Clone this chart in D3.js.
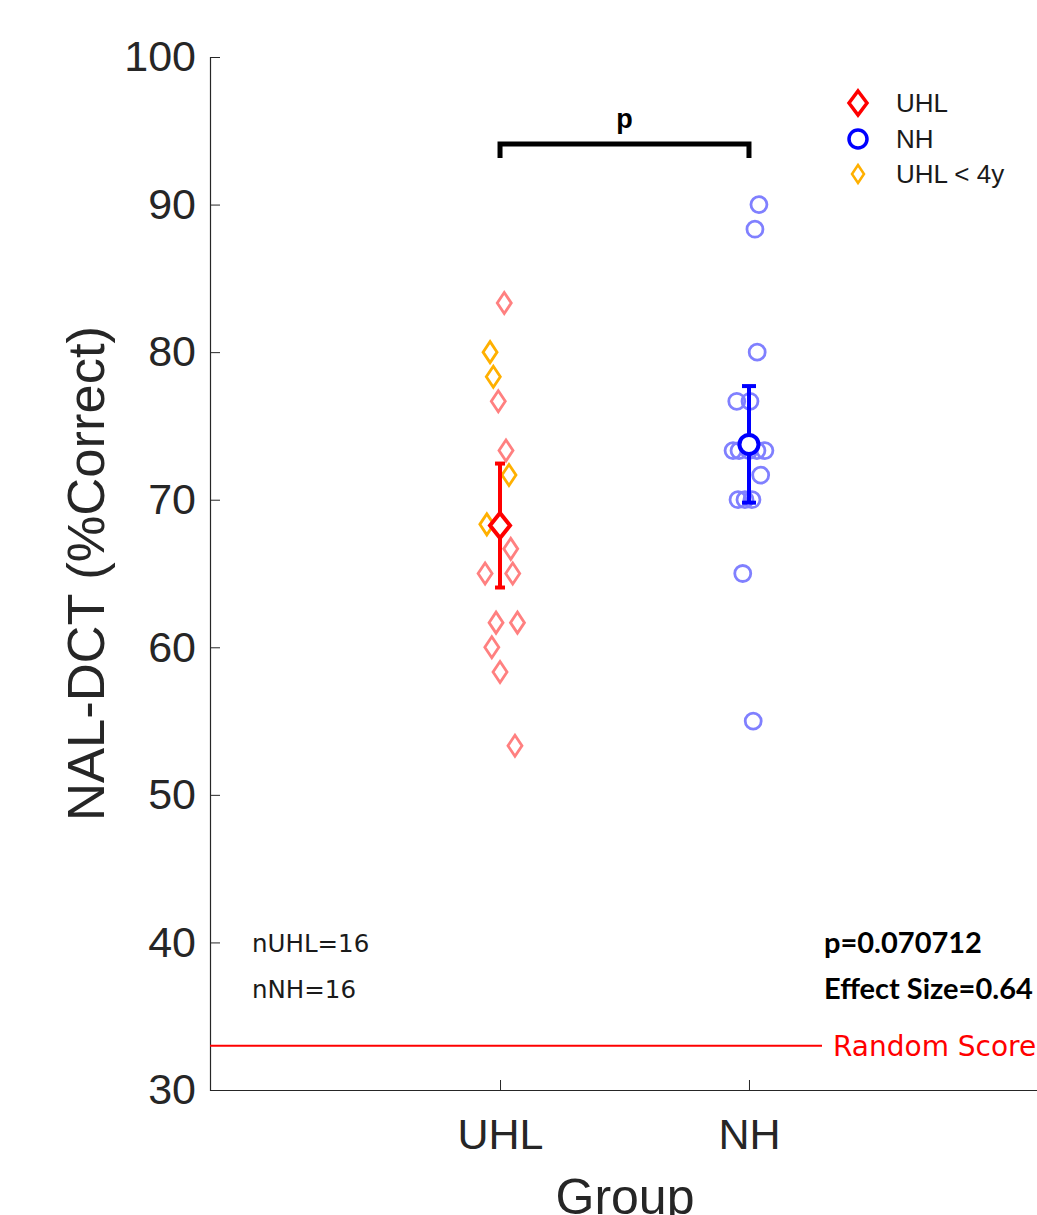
<!DOCTYPE html>
<html><head><meta charset="utf-8">
<script src="https://cdn.jsdelivr.net/npm/d3@7"></script>
<style>body{margin:0;background:#fff}svg{display:block}</style>
</head><body>
<script>
// ---- data ----
const groups = ["UHL", "NH"];
const yTicks = [30, 40, 50, 60, 70, 80, 90, 100];
// UHL individual scores, jitter (group units), and whether age < 4y
const uhlValues = [83.33, 80.0, 78.33, 76.67, 73.33, 71.67, 68.33, 68.33, 66.67, 65.0, 65.0, 61.67, 61.67, 60.0, 58.33, 53.33];
const uhlJitter = [0.017, -0.040, -0.027, -0.007, 0.024, 0.036, -0.053, 0.0, 0.043, -0.060, 0.051, -0.016, 0.070, -0.033, 0.0, 0.060];
const uhlYoung  = [false, true, true, false, false, true, true, false, false, false, false, false, false, false, false, false];
const nhValues = [90.0, 88.33, 80.0, 76.67, 76.67, 73.33, 73.33, 73.33, 73.33, 73.33, 71.67, 70.0, 70.0, 70.0, 65.0, 55.0];
const nhJitter = [0.040, 0.024, 0.033, -0.049, 0.004, -0.064, -0.040, 0.0, 0.032, 0.064, 0.047, -0.044, -0.016, 0.012, -0.025, 0.017];
const means = [68.25, 73.75];
const sems = [4.2, 3.95];
const randomScore = 33;
const pText = "p=0.070712";
const effText = "Effect Size=0.64";
const nTexts = ["nUHL=16", "nNH=16"];
const legendLabels = ["UHL", "NH", "UHL < 4y"];

// ---- layout ----
const W = 1037, H = 1215;
const svg = d3.select("body").append("svg").attr("width", W).attr("height", H);
const y = d3.scaleLinear().domain([30, 100]).range([1090, 57]);
const x = d3.scaleLinear().domain([-0.165, 3.169]).range([210, 1040]);
const axisColor = "#262626";
const sans = "Liberation Sans, Arial, sans-serif";

// axes
const yAxis = svg.append("g").attr("transform", `translate(210,0)`)
  .call(d3.axisLeft(y).tickValues(yTicks).tickSize(-10).tickPadding(14));
yAxis.select(".domain").attr("stroke", axisColor).attr("stroke-width", 1.2);
yAxis.selectAll(".tick line").attr("stroke", axisColor).attr("stroke-width", 1);
yAxis.selectAll(".tick text").attr("fill", axisColor).style("font-family", sans).style("font-size", "43px");

const xAxis = svg.append("g").attr("transform", `translate(0,1090)`)
  .call(d3.axisBottom(x).tickValues([1, 2]).tickFormat(d => groups[d - 1]).tickSize(-10).tickPadding(28).tickSizeOuter(0));
xAxis.select(".domain").attr("stroke", axisColor).attr("stroke-width", 1.2);
xAxis.selectAll(".tick line").attr("stroke", axisColor).attr("stroke-width", 1);
xAxis.selectAll(".tick text").attr("fill", axisColor).attr("dy", "0.71em").style("font-family", sans).style("font-size", "43px");

svg.append("text").attr("x", 625).attr("y", 1214).attr("text-anchor", "middle")
  .attr("fill", axisColor).style("font-family", sans).style("font-size", "50px").text("Group");
svg.append("text").attr("transform", `translate(104,${(57 + 1090) / 2}) rotate(-90)`).attr("text-anchor", "middle")
  .attr("fill", axisColor).style("font-family", sans).style("font-size", "52.5px").text("NAL-DCT (%Correct)");

// random score line
svg.append("line").attr("x1", 210).attr("x2", 822).attr("y1", y(randomScore)).attr("y2", y(randomScore))
  .attr("stroke", "#ff0000").attr("stroke-width", 2);
svg.append("text").attr("x", 833).attr("y", y(randomScore) + 10).attr("fill", "#ff0000")
  .style("font-family", "DejaVu Sans, sans-serif").style("font-size", "28px").text("Random Score");

// markers
const diamond = (hw, hh) => `M0,${-hh}L${hw},0L0,${hh}L${-hw},0Z`;

// UHL points
svg.append("g").selectAll("path").data(uhlValues).join("path")
  .attr("d", diamond(7, 10.5))
  .attr("transform", (d, i) => `translate(${x(1 + uhlJitter[i])},${y(d)})`)
  .attr("fill", "none")
  .attr("stroke", (d, i) => uhlYoung[i] ? "#ffb000" : "#ff8080")
  .attr("stroke-width", 2.8);

// NH points
svg.append("g").selectAll("circle").data(nhValues).join("circle")
  .attr("cx", (d, i) => x(2 + nhJitter[i])).attr("cy", d => y(d)).attr("r", 8)
  .attr("fill", "none").attr("stroke", "#8080ff").attr("stroke-width", 2.8);

// error bars
const colors = ["#ff0000", "#0000ff"];
const capW = [5, 7];
means.forEach((m, i) => {
  const cx = x(i + 1);
  const g = svg.append("g").attr("stroke", colors[i]).attr("stroke-width", 4);
  g.append("line").attr("x1", cx).attr("x2", cx).attr("y1", y(m - sems[i])).attr("y2", y(m + sems[i]));
  g.append("line").attr("x1", cx - capW[i]).attr("x2", cx + capW[i]).attr("y1", y(m + sems[i])).attr("y2", y(m + sems[i]));
  g.append("line").attr("x1", cx - capW[i]).attr("x2", cx + capW[i]).attr("y1", y(m - sems[i])).attr("y2", y(m - sems[i]));
});
svg.append("path").attr("d", diamond(10, 12.5)).attr("transform", `translate(${x(1)},${y(means[0])})`)
  .attr("fill", "#fff").attr("stroke", "#ff0000").attr("stroke-width", 4);
svg.append("circle").attr("cx", x(2)).attr("cy", y(means[1])).attr("r", 9.5)
  .attr("fill", "#fff").attr("stroke", "#0000ff").attr("stroke-width", 4);

// significance bracket
svg.append("path").attr("d", `M${x(1)},158V144H${x(2)}V158`).attr("fill", "none")
  .attr("stroke", "#000").attr("stroke-width", 5);
svg.append("text").attr("x", (x(1) + x(2)) / 2).attr("y", 128).attr("text-anchor", "middle")
  .style("font-family", sans).style("font-weight", "bold").style("font-size", "27px").text("p");

// legend
const leg = svg.append("g");
const legY = [103, 139, 174];
leg.append("path").attr("d", diamond(9, 12)).attr("transform", `translate(858,${legY[0]})`)
  .attr("fill", "none").attr("stroke", "#ff0000").attr("stroke-width", 3.5);
leg.append("circle").attr("cx", 858).attr("cy", legY[1]).attr("r", 9)
  .attr("fill", "none").attr("stroke", "#0000ff").attr("stroke-width", 3.5);
leg.append("path").attr("d", diamond(6, 9)).attr("transform", `translate(858,${legY[2]})`)
  .attr("fill", "none").attr("stroke", "#ffb000").attr("stroke-width", 2.5);
leg.selectAll("text").data(legendLabels).join("text")
  .attr("x", 896).attr("y", (d, i) => legY[i] + 9)
  .attr("fill", "#1a1a1a").style("font-family", sans).style("font-size", "26px")
  .text(d => d);

// annotations
svg.selectAll("text.n").data(nTexts).join("text").attr("class", "n")
  .attr("x", 252).attr("y", (d, i) => 952 + i * 46)
  .attr("fill", "#1a1a1a").style("font-family", "DejaVu Sans, sans-serif").style("font-size", "24.5px").text(d => d);
svg.append("text").attr("x", 824).attr("y", 953).attr("fill", "#000")
  .style("font-family", "Lato, Open Sans, sans-serif").style("font-weight", "bold").style("font-size", "29px").text(pText);
svg.append("text").attr("x", 824).attr("y", 999).attr("fill", "#000")
  .style("font-family", "Lato, Open Sans, sans-serif").style("font-weight", "bold").style("font-size", "29px").text(effText);
</script>
</body></html>
